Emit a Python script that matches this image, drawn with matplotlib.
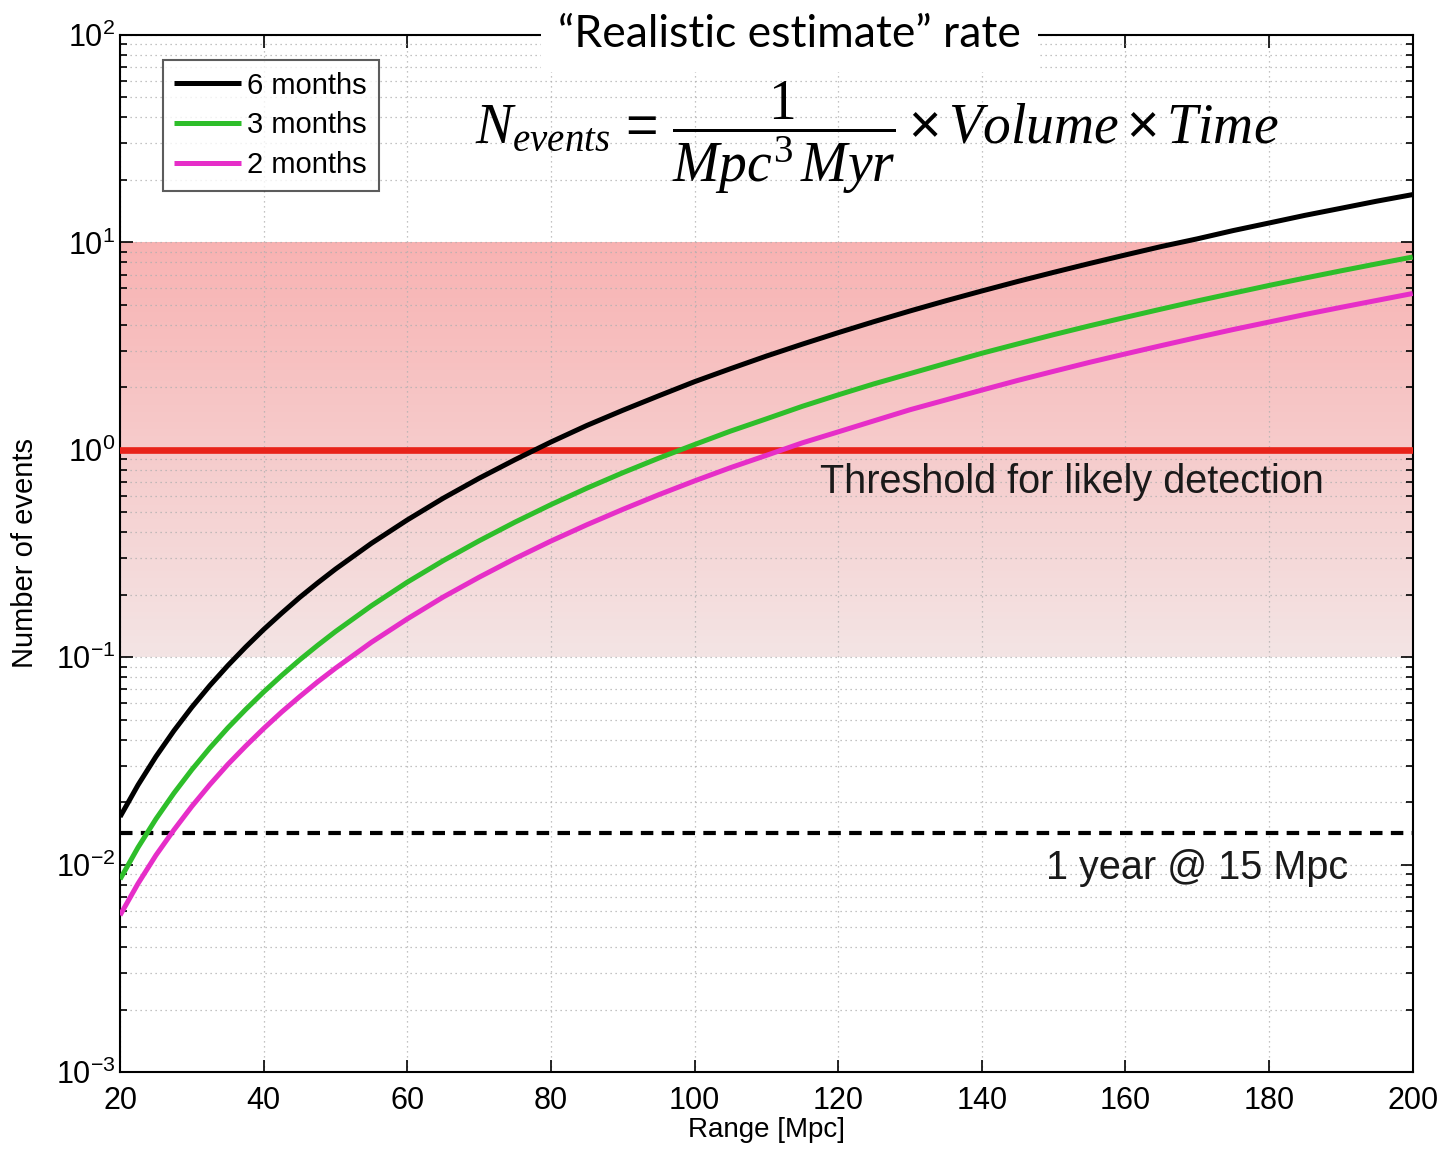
import numpy as np
import matplotlib
matplotlib.use("Agg")
import matplotlib.pyplot as plt
from matplotlib.ticker import LogLocator, FixedLocator, FuncFormatter, NullFormatter

plt.rcParams['font.family'] = ['Liberation Sans', 'DejaVu Sans']
plt.rcParams['mathtext.fontset'] = 'custom'
plt.rcParams['mathtext.rm'] = 'Liberation Sans'
plt.rcParams['mathtext.it'] = 'Liberation Serif:italic'
plt.rcParams['mathtext.sf'] = 'Liberation Serif'

# Range in Mpc
range_mpc = [20, 22.5, 25, 27.5, 30, 32.5, 35, 37.5, 40, 42.5, 45, 47.5, 50, 55, 60,
             65, 70, 75, 80, 85, 90, 95, 100, 105, 110, 115, 120, 125, 130, 135, 140,
             145, 150, 155, 160, 165, 170, 175, 180, 185, 190, 195, 200]

# Expected number of events for each observing time
events_6_months = [0.017, 0.0242, 0.0332, 0.0442, 0.0574, 0.0730, 0.0911, 0.112, 0.136,
                   0.163, 0.194, 0.228, 0.266, 0.354, 0.459, 0.584, 0.729, 0.896, 1.09,
                   1.31, 1.55, 1.82, 2.13, 2.46, 2.83, 3.23, 3.67, 4.15, 4.67, 5.23,
                   5.83, 6.48, 7.17, 7.91, 8.70, 9.55, 10.4, 11.4, 12.4, 13.5, 14.6,
                   15.8, 17.0]
events_3_months = [0.0085, 0.0121, 0.0166, 0.0221, 0.0287, 0.0365, 0.0456, 0.056, 0.068,
                   0.0816, 0.097, 0.114, 0.133, 0.177, 0.230, 0.292, 0.364, 0.448, 0.544,
                   0.653, 0.775, 0.911, 1.06, 1.23, 1.41, 1.62, 1.84, 2.08, 2.33, 2.61,
                   2.92, 3.24, 3.59, 3.96, 4.35, 4.77, 5.22, 5.69, 6.20, 6.73, 7.29,
                   7.88, 8.5]
events_2_months = [0.0057, 0.0081, 0.0111, 0.0147, 0.0191, 0.0243, 0.0304, 0.0373, 0.0453,
                   0.0544, 0.0645, 0.076, 0.0885, 0.118, 0.153, 0.195, 0.243, 0.299, 0.363,
                   0.435, 0.516, 0.607, 0.708, 0.82, 0.94, 1.08, 1.22, 1.38, 1.56, 1.74,
                   1.94, 2.16, 2.39, 2.64, 2.90, 3.18, 3.48, 3.80, 4.13, 4.49, 4.86,
                   5.25, 5.67]

series_labels = ['6 months', '3 months', '2 months']
series_colors = ['black', '#2EBE2A', '#E62EC8']

threshold = 1.0
band_low, band_high = 0.1, 10.0
one_year_15mpc = 0.0142

x_ticks = [20, 40, 60, 80, 100, 120, 140, 160, 180, 200]

fig = plt.figure(figsize=(14.43, 11.5), dpi=100)
ax = fig.add_axes([0.0832, 0.0678, 0.8958, 0.9018])
ax.set_yscale('log')
ax.set_xlim(20, 200)
ax.set_ylim(1e-3, 1e2)

# Shaded "plausible" band, fading toward the lower edge
n_strips = 120
edges = np.logspace(np.log10(band_low), np.log10(band_high), n_strips + 1)
top_c = np.array([248, 178, 178]) / 255
bot_c = np.array([243, 228, 228]) / 255
for i in range(n_strips):
    t = (i + 0.5) / n_strips
    c = bot_c + (top_c - bot_c) * t
    ax.axhspan(edges[i], edges[i + 1], color=c, lw=0, zorder=0)

# Grid
ax.xaxis.set_major_locator(FixedLocator(x_ticks))
ax.yaxis.set_major_locator(LogLocator(base=10, numticks=10))
ax.yaxis.set_minor_locator(LogLocator(base=10, subs=np.arange(2, 10), numticks=100))
ax.yaxis.set_minor_formatter(NullFormatter())
ax.grid(True, which='major', axis='both', color='#b0b0b0', linestyle=(0, (1, 3)), lw=0.9, zorder=1)
ax.grid(True, which='minor', axis='y', color='#b0b0b0', linestyle=(0, (1, 3)), lw=0.9, zorder=1)

# Threshold and reference lines
ax.axhline(threshold, color='#E8231A', lw=4.8, zorder=3)
ax.axhline(one_year_15mpc, color='black', lw=3, dashes=(3, 2), zorder=3)

for y, lab, col in zip([events_6_months, events_3_months, events_2_months],
                       series_labels, series_colors):
    ax.plot(range_mpc, y, color=col, lw=3.6, label=lab, zorder=4,
            solid_joinstyle='round', solid_capstyle='butt')

ax.text(152.5, 0.70, 'Threshold for likely detection', fontsize=28.5,
        ha='center', va='center', color='#1a1a1a', zorder=5)
ax.text(170, 0.0096, '1 year @ 15 Mpc', fontsize=28.5,
        ha='center', va='center', color='#1a1a1a', zorder=5)

# Rate equation
ax.text(0.585, 0.901,
        r'$N_{events}\,=\,\dfrac{\mathsf{1}}{Mpc^{\mathsf{3}}\,Myr}\times Volume\times Time$',
        transform=ax.transAxes, fontsize=40, ha='center', va='center', zorder=5)

# Ticks
ax.tick_params(axis='both', which='both', direction='in', top=True, right=True,
               labelsize=22, width=1.2, color='black')
ax.tick_params(which='major', length=9)
ax.tick_params(which='minor', length=5)
ax.tick_params(axis='x', pad=10)
ax.xaxis.set_major_formatter(FuncFormatter(lambda v, p: f'{int(v)}'))
ax.yaxis.set_major_formatter(FuncFormatter(
    lambda v, p: r'$\mathdefault{10^{%d}}$' % int(round(np.log10(v)))))
for sp in ax.spines.values():
    sp.set_linewidth(1.5)

ax.set_xlabel('Range [Mpc]', fontsize=20, labelpad=1)
ax.set_ylabel('Number of events', fontsize=21, labelpad=12)

leg = ax.legend(loc='upper left', bbox_to_anchor=(0.033, 0.976), fontsize=21,
                frameon=True, fancybox=False, edgecolor='#333333', handlelength=2.3,
                handletextpad=0.2, labelspacing=0.4, borderpad=0.4, borderaxespad=0)
leg.get_frame().set_linewidth(1.5)
leg.set_zorder(6)

# Title interrupting the top frame
ax.text(0.518, 1.0, '\u201cRealistic estimate\u201d rate', transform=ax.transAxes,
        fontsize=32, family=['Lato', 'DejaVu Sans'], ha='center', va='center',
        bbox=dict(facecolor='white', edgecolor='none', pad=12), zorder=10, clip_on=False)

fig.savefig('out.png', dpi=100, facecolor='white')
